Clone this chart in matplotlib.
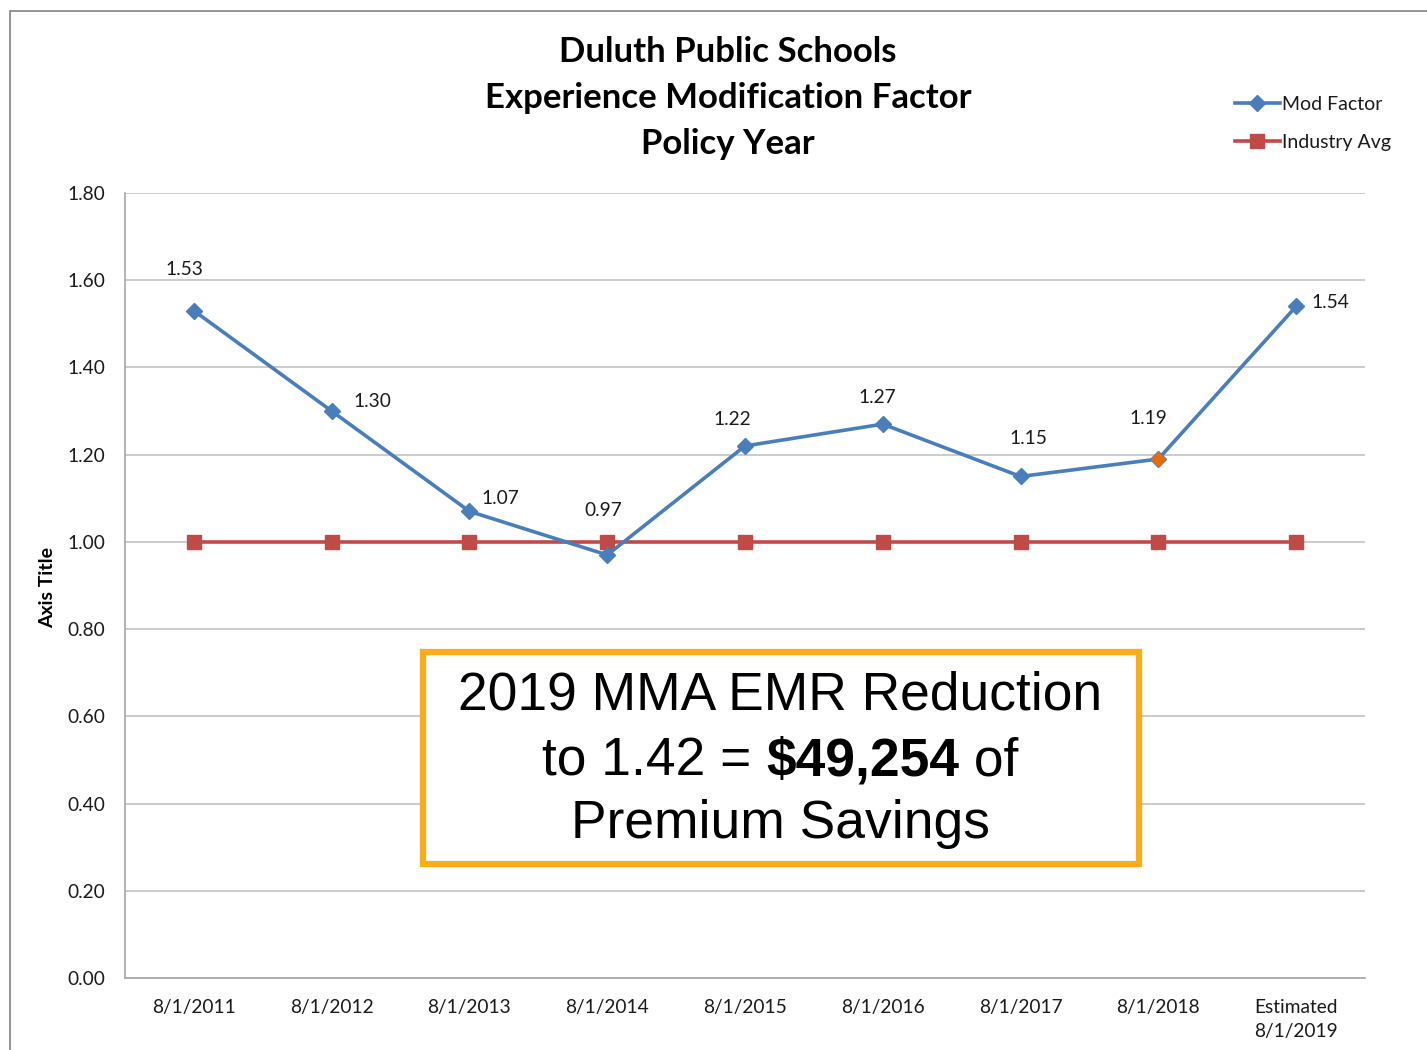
import matplotlib
matplotlib.use("Agg")
import matplotlib.pyplot as plt
from matplotlib.patches import Rectangle

categories = ["8/1/2011", "8/1/2012", "8/1/2013", "8/1/2014", "8/1/2015",
              "8/1/2016", "8/1/2017", "8/1/2018", "Estimated\n8/1/2019"]
mod_factor = [1.53, 1.30, 1.07, 0.97, 1.22, 1.27, 1.15, 1.19, 1.54]
industry_avg = [1.00] * 9
yticks = [0.0, 0.2, 0.4, 0.6, 0.8, 1.0, 1.2, 1.4, 1.6, 1.8]
# label offsets in points (dx, dy)
label_offsets = [(-7, 30), (29, 7), (22, 9), (-3, 32), (-9, 19), (-4, 19), (6, 27), (-7, 29), (25, 3)]

W, H = 1427, 1050
fig = plt.figure(figsize=(W / 100, H / 100), dpi=100)
plt.rcParams['font.family'] = ['Lato', 'DejaVu Sans']

# outer chart border
fig.patches.append(Rectangle((10 / W, -0.05), 1.2, 1.05 - 11 / H, transform=fig.transFigure,
                             fill=False, edgecolor='#8c8c8c', linewidth=1.3))

ax = fig.add_axes([125 / W, 1 - 978 / H, (1365 - 125) / W, (978 - 193) / H])
x = list(range(len(categories)))

blue = '#4A7EBB'
red = '#BE4B48'
ax.plot(x, mod_factor, color=blue, lw=2.6, marker='D', markersize=8.5, zorder=3, label='Mod Factor')
ax.plot(x, industry_avg, color=red, lw=2.6, marker='s', markersize=10, zorder=2, label='Industry Avg')
ax.plot([x[7]], [mod_factor[7]], linestyle='none', marker='D', markersize=7.5,
        color='#E46C0A', markeredgecolor='#E46C0A', zorder=4)

for xi, v, (dx, dy) in zip(x, mod_factor, label_offsets):
    ax.annotate(f"{v:.2f}", (xi, v), xytext=(dx, dy), textcoords='offset points',
                ha='center', va='center', fontsize=13.8, color='#1a1a1a')

ax.set_xlim(-0.5, len(categories) - 0.5)
ax.set_ylim(0, 1.8)
ax.set_yticks(yticks)
ax.set_yticklabels([f"{t:.2f}" for t in yticks], fontsize=13.8, color='#1a1a1a')
ax.set_xticks(x)
ax.set_xticklabels(categories, fontsize=13.8, color='#1a1a1a', linespacing=1.5)
ax.tick_params(axis='both', length=0)
ax.tick_params(axis='y', pad=14)
ax.tick_params(axis='x', pad=15)
ax.grid(axis='y', color='#BDBDBD', lw=1.1)
ax.set_axisbelow(True)
for s in ['top', 'right']:
    ax.spines[s].set_visible(False)
for s in ['left', 'bottom']:
    ax.spines[s].set_color('#A6A6A6')
    ax.spines[s].set_linewidth(1.2)

fig.text(48 / W, 1 - 587 / H, "Axis Title", rotation=90, ha='center', va='center',
         fontsize=14, fontweight='bold', color='black')

title_lines = ["Duluth Public Schools", "Experience Modification Factor", "Policy Year"]
for i, t in enumerate(title_lines):
    fig.text(728 / W, 1 - (52 + 46 * i) / H, t, ha='center', va='center',
             fontsize=25, fontweight='bold', color='black')

leg = fig.legend(loc='upper left', bbox_to_anchor=(1227 / W, 1 - 88 / H), frameon=False,
                 fontsize=14, handlelength=2.3, handletextpad=0.15, labelspacing=1.1,
                 borderaxespad=0)
for t in leg.get_texts():
    t.set_color('#1a1a1a')

# annotation box
fig.patches.append(Rectangle((423 / W, 1 - 864 / H), (1139 - 423) / W, (864 - 652) / H,
                             transform=fig.transFigure, fill=True, facecolor='white',
                             edgecolor='#FBAC1C', linewidth=4.5, zorder=5))
bx = 780 / W
fs = 38.4
fam = ['Liberation Sans', 'DejaVu Sans']
fig.text(bx, 1 - 696 / H, "2019 MMA EMR Reduction", ha='center', va='center',
         fontsize=fs, family=fam, zorder=6)
fig.text(bx, 1 - 824 / H, "Premium Savings", ha='center', va='center',
         fontsize=fs, family=fam, zorder=6)

parts = [("to 1.42 = ", 'normal'), ("$49,254", 'bold'), (" of", 'normal')]
renderer = fig.canvas.get_renderer()
texts = []
for s, w in parts:
    t = fig.text(0, 1 - 761 / H, s, ha='left', va='center', fontsize=fs,
                 fontweight=w, family=fam, zorder=6)
    texts.append(t)
widths = [t.get_window_extent(renderer).width for t in texts]
total = sum(widths)
start = 780 - total / 2
for t, w in zip(texts, widths):
    t.set_x(start / W)
    start += w

fig.savefig("out.png", dpi=100)
